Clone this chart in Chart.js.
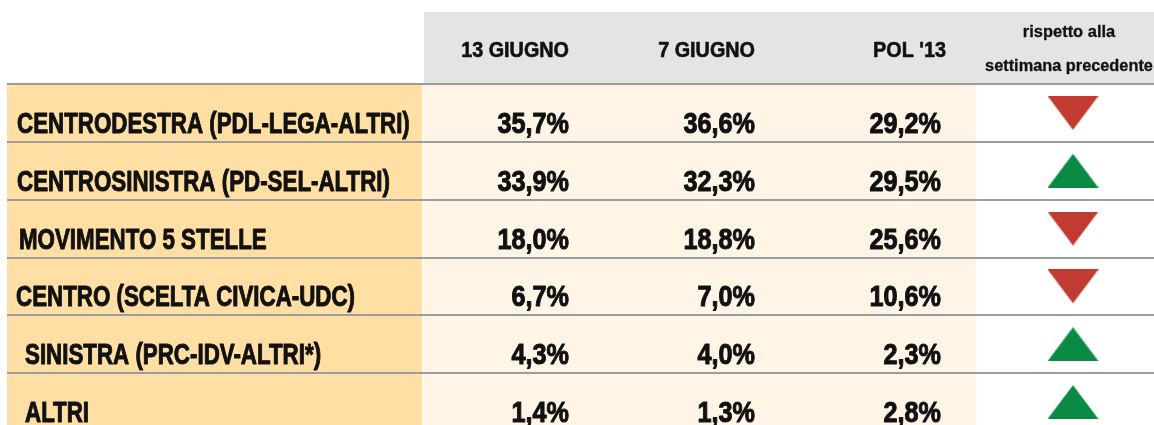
<!DOCTYPE html>
<html>
<head>
<meta charset="utf-8">
<script src="https://cdn.jsdelivr.net/npm/chart.js@4.4.1/dist/chart.umd.min.js"></script>
<style>
  html, body { margin: 0; padding: 0; background: #fff; overflow: hidden; }
  #wrap { width: 1154px; height: 425px; overflow: hidden; }
</style>
</head>
<body>
<div id="wrap"><canvas id="poll" width="1154" height="431"></canvas></div>
<script>
// Data
const parties = [
    'CENTRODESTRA (PDL-LEGA-ALTRI)',
    'CENTROSINISTRA (PD-SEL-ALTRI)',
    'MOVIMENTO 5 STELLE',
    'CENTRO (SCELTA CIVICA-UDC)',
    'SINISTRA (PRC-IDV-ALTRI*)',
    'ALTRI'
];
const june13 = [35.7, 33.9, 18.0, 6.7, 4.3, 1.4];
const june7 = [36.6, 32.3, 18.8, 7.0, 4.0, 1.3];
const pol13 = [29.2, 29.5, 25.6, 10.6, 2.3, 2.8];
const columnLabels = ['13 GIUGNO', '7 GIUGNO', "POL '13"];
const trendLabel = ['rispetto alla', 'settimana precedente'];

// Layout (x in canvas units, mapped through the x scale)
const LABEL_COL = [7, 422];
const DATA_COL = [424, 976];
const VALUE_RIGHT = [569, 755, 941];
const HEADER_RIGHT = [569, 755, 946];
const TREND_X = 1073;
const labelIndent = [0, 0, 2, -1, 8, 8];

const FONT = '"Liberation Sans", Arial, sans-serif';
const INK = '#111111';

// up = 1, down = -1 compared with the previous week
const trend = june13.map((v, i) => Math.sign(v - june7[i]));

function fmt(v) {
    return v.toFixed(1).replace('.', ',') + '%';
}

function triangleImage(color) {
    const c = document.createElement('canvas');
    c.width = 51;
    c.height = 34;
    const g = c.getContext('2d');
    g.fillStyle = color;
    g.beginPath();
    g.moveTo(25.5, 0);
    g.lineTo(51, 34);
    g.lineTo(0, 34);
    g.closePath();
    g.fill();
    return c;
}
const upImg = triangleImage('#0B8A44');
const downImg = triangleImage('#C23B31');

function drawText(ctx, text, x, y, size, scaleX, align, weight) {
    ctx.save();
    ctx.font = `bold ${size}px ${FONT}`;
    ctx.fillStyle = INK;
    ctx.strokeStyle = INK;
    ctx.lineWidth = weight || 0;
    ctx.lineJoin = 'round';
    ctx.textAlign = align;
    ctx.textBaseline = 'alphabetic';
    ctx.translate(x, y);
    ctx.scale(scaleX, 1);
    ctx.fillText(text, 0, 0);
    if (weight) ctx.strokeText(text, 0, 0);
    ctx.restore();
}

// Header band and cell texts
const tableText = {
    id: 'tableText',
    afterDatasetsDraw(chart) {
        const { ctx, scales: { x, y } } = chart;

        // header
        ctx.save();
        ctx.fillStyle = '#E4E4E4';
        const hx = x.getPixelForValue(DATA_COL[0]);
        ctx.fillRect(hx, 12, x.getPixelForValue(x.max) - hx, 71);
        ctx.restore();
        columnLabels.forEach((lab, c) => {
            drawText(ctx, lab, x.getPixelForValue(HEADER_RIGHT[c]), 57, 22, 0.9, 'right', 0.6);
        });
        drawText(ctx, trendLabel[0], x.getPixelForValue(TREND_X - 4), 37, 17, 0.97, 'center', 0.3);
        drawText(ctx, trendLabel[1], x.getPixelForValue(TREND_X - 4), 71, 17, 0.96, 'center', 0.3);

        // rows
        parties.forEach((p, i) => {
            const yb = y.getPixelForValue(i) + 20;
            drawText(ctx, p, x.getPixelForValue(17 + labelIndent[i]), yb, 29, 0.77, 'left', 1);
            [june13, june7, pol13].forEach((series, c) => {
                drawText(ctx, fmt(series[i]), x.getPixelForValue(VALUE_RIGHT[c]), yb, 29, 0.87, 'right', 1);
            });
        });
    }
};

new Chart(document.getElementById('poll'), {
    type: 'bar',
    data: {
        labels: parties,
        datasets: [
            {
                label: 'labels',
                data: parties.map(() => LABEL_COL),
                backgroundColor: '#FFDFA3',
                barPercentage: 1,
                categoryPercentage: 1,
                grouped: false
            },
            {
                label: 'values',
                data: parties.map(() => DATA_COL),
                backgroundColor: '#FFF5E7',
                barPercentage: 1,
                categoryPercentage: 1,
                grouped: false
            },
            {
                type: 'scatter',
                label: 'trend',
                data: parties.map(p => ({ x: TREND_X, y: p })),
                pointStyle: trend.map(t => t > 0 ? upImg : downImg),
                rotation: trend.map(t => t > 0 ? 0 : 180),
                pointRadius: 10,
                pointHoverRadius: 10
            }
        ]
    },
    options: {
        indexAxis: 'y',
        responsive: false,
        animation: false,
        events: [],
        layout: { autoPadding: false, padding: { top: 84, left: 7, right: 0, bottom: 0 } },
        plugins: { legend: { display: false }, tooltip: { enabled: false } },
        scales: {
            x: { type: 'linear', min: 7, max: 1154, display: false },
            y: {
                type: 'category',
                offset: true,
                border: { display: false },
                grid: { offset: true, z: 1, color: '#9C9C9C', lineWidth: 2, drawTicks: false },
                ticks: { display: false },
                afterFit(scale) { scale.width = 0; }
            }
        }
    },
    plugins: [tableText]
});
</script>
</body>
</html>
